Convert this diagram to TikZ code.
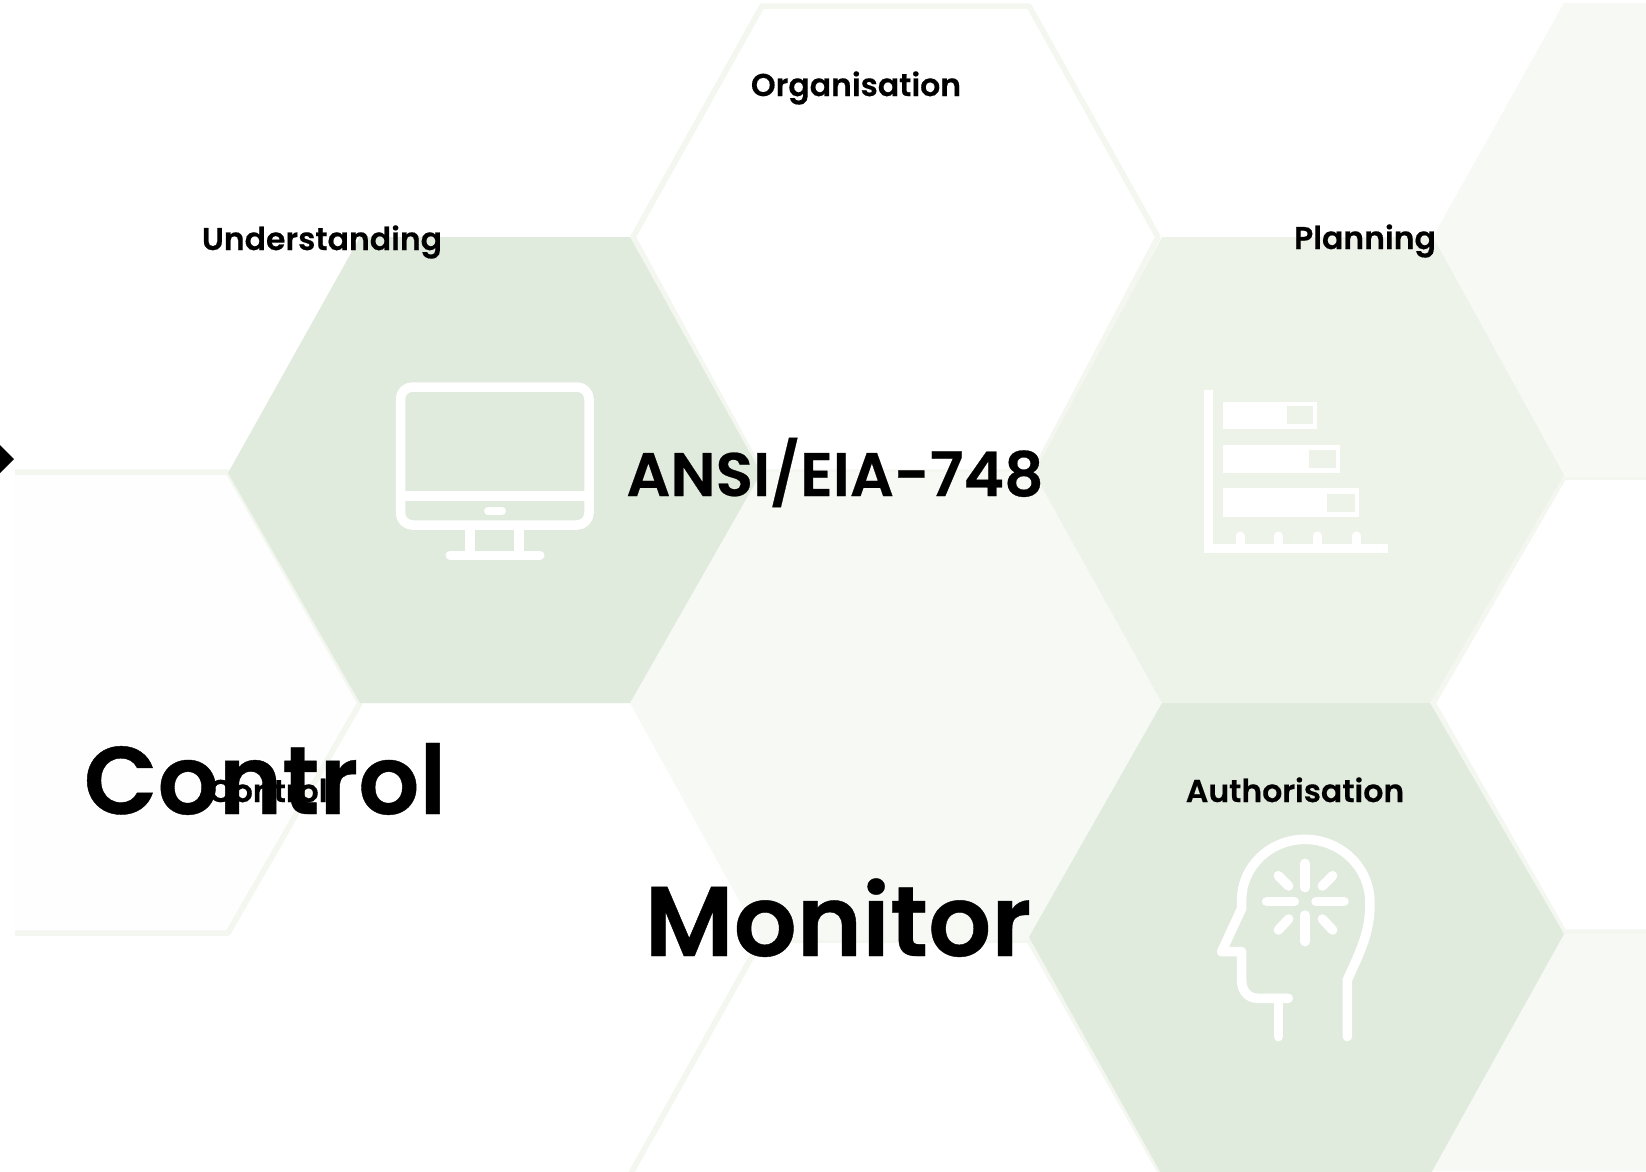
\documentclass[tikz,border=0pt]{standalone}
\usepackage{fontspec}
\setmainfont{Poppins}[BoldFont={Poppins SemiBold},BoldFeatures={FakeBold=0.4}]
\tikzset{
 x=1pt,y=-1pt,
 hexline/.style={draw=hexedge,line width=5.5pt,line join=round},
 icon/.style={draw=white,line width=9.5pt,line cap=round,line join=round,fill=none},
 small/.style={font=\fontsize{31.5}{31.5}\selectfont\bfseries,text=black,inner sep=0pt,anchor=base},
 mid/.style={font=\fontsize{61.5}{61.5}\selectfont\bfseries,text=black,inner sep=0pt,anchor=base},
 big/.style={font=\fontsize{96}{96}\selectfont\bfseries,text=black,inner sep=0pt,anchor=base},
 bigm/.style={font=\fontsize{99}{99}\selectfont\bfseries,text=black,inner sep=0pt,anchor=base}
}
\definecolor{hexedge}{HTML}{F3F7F0}
\definecolor{gA}{HTML}{E1EBDD}
\definecolor{gB}{HTML}{EEF3EA}
\definecolor{gC}{HTML}{F6F9F4}
\definecolor{gD}{HTML}{FEFEFE}
\begin{document}
\begin{tikzpicture}
\useasboundingbox (0,0) rectangle (1646,1171);
\fill[white] (0,0) rectangle (1646,1171);
% faint outlined hexagons
\draw[hexline,fill=white] (633,237)--(762,6)--(1029,6)--(1158,237)--(1034,472)--(761,472)--cycle;
\fill[gD] (15,472)--(228,472)--(360,703)--(228,933)--(15,933)--cycle;
\draw[hexline] (15,472)--(228,472)--(360,703)--(228,933)--(15,933);
\fill[white] (1433,703)--(1564,477)--(1646,477)--(1646,932)--(1564,932)--cycle;
\draw[hexline] (1650,477)--(1564,477)--(1433,703)--(1564,932)--(1650,932);
\draw[hexline,fill=white] (630,1175)--(761,940)--(1029,940)--(1162,1175);
\fill[gC] (1433,237)--(1564,3)--(1646,3)--(1646,477)--(1564,477)--cycle;
\fill[gC] (1430,1171)--(1564,934)--(1646,934)--(1646,1171)--cycle;
\fill[gC] (630,703)--(761,472)--(1034,472)--(1162,703)--(1029,940)--(761,940)--cycle;
% solid hexagons
\fill[gA] (228,473)--(360,237)--(630,237)--(761,473)--(630,703)--(360,703)--cycle;
\fill[gB] (1034,473)--(1162,237)--(1433,237)--(1564,475)--(1430,703)--(1162,703)--cycle;
\fill[gA] (1029,937)--(1162,703)--(1430,703)--(1564,934)--(1430,1175)--(1162,1175)--cycle;
% marker
\fill[black] (-14,459)--(0,445)--(14,459)--(0,473)--cycle;
% monitor
\draw[icon] (400.5,399) arc[start angle=180,end angle=270,radius=12] -- (577,387) arc[start angle=270,end angle=360,radius=12] -- (589,513) arc[start angle=0,end angle=90,radius=12] -- (412.5,525) arc[start angle=90,end angle=180,radius=12] -- cycle;
\draw[icon,line cap=butt] (400.5,496)--(589,496);
\draw[icon,line width=8pt] (488,511)--(502,511);
\draw[icon,line cap=butt] (470,525)--(470,555);
\draw[icon,line cap=butt] (519,525)--(519,555);
\draw[icon,line width=9pt] (450,555)--(540,555);
% chart
\draw[icon,line width=9pt,line cap=butt,line join=miter] (1208,390)--(1208,548)--(1388,548);
\foreach \tx in {1240,1278,1317,1356}{\draw[icon,line width=9pt,line cap=round] (\tx,536)--(\tx,548);}
\fill[white] (1223,402) rectangle (1317,429);
\fill[gB] (1287,406) rectangle (1313,424);
\fill[white] (1223,445) rectangle (1340,473);
\fill[gB] (1309,450) rectangle (1336,468);
\fill[white] (1223,488) rectangle (1359,517);
\fill[gB] (1327,494) rectangle (1355,512);
% head
\begin{scope}[shift={(1190,820)},x=0.3333pt,y=-0.3333pt]
\draw[icon] (472,650)--(472,480) .. controls (510,395) and (540,340) .. (540,250) .. controls (540,140) and (450,58) .. (345,58) .. controls (240,58) and (155,140) .. (155,240)--(155,265)--(95,395)--(155,395)--(155,480) .. controls (155,515) and (175,535) .. (205,535)--(295,535);
\draw[icon] (265,535)--(265,650);
\draw[icon] (345,130)--(345,203);
\draw[icon] (345,285)--(345,365);
\draw[icon] (230,245)--(313,245);
\draw[icon] (378,245)--(462,245);
\draw[icon] (265,167)--(296,198);
\draw[icon] (428,167)--(397,198);
\draw[icon] (265,330)--(296,297);
\draw[icon] (428,330)--(397,297);
\end{scope}
% text
\node[small] (org) at (856,96) {Organisation};
\node[small] (und) at (322,250) {Understanding};
\node[small] (pla) at (1365,249) {Planning};
\node[small] (aut) at (1295,802) {Authorisation};
\node[small] (cts) at (268,802) {Control};
\node[mid] (ans) at (835,496) {ANSI/EIA-748};
\node[bigm] (mon) at (838,956) {Monitor};
\node[big] (ctl) at (265,814) {Control};
\end{tikzpicture}
\end{document}
